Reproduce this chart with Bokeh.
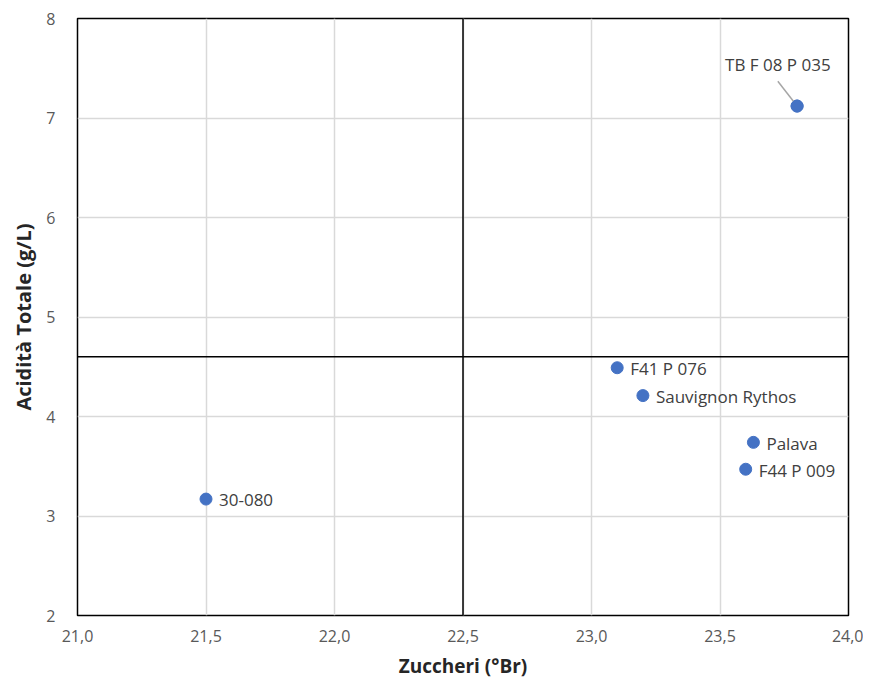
from bokeh.plotting import figure
from bokeh.models import ColumnDataSource, FixedTicker, Span
from bokeh.core.properties import value
from bokeh.embed import file_html
from bokeh.resources import INLINE

# Data
names = ["30-080", "F41 P 076", "Sauvignon Rythos", "Palava", "F44 P 009", "TB F 08 P 035"]
zuccheri = [21.5, 23.1, 23.2, 23.63, 23.6, 23.8]
acidita = [3.17, 4.49, 4.21, 3.74, 3.47, 7.12]

x_ticks = [21.0, 21.5, 22.0, 22.5, 23.0, 23.5, 24.0]
x_tick_labels = ["21,0", "21,5", "22,0", "22,5", "23,0", "23,5", "24,0"]
y_ticks = [2, 3, 4, 5, 6, 7, 8]
y_tick_labels = ["2", "3", "4", "5", "6", "7", "8"]

x_cross = 22.5
y_cross = 4.6

FONT = "Open Sans"
W, H = 863, 682

p = figure(width=W, height=H, x_range=(21, 24), y_range=(2, 8),
           output_backend="svg", toolbar_location=None,
           min_border_left=77, min_border_right=15, min_border_top=18, min_border_bottom=67)
p.background_fill_color = "white"
p.border_fill_color = "white"
p.outline_line_color = "black"
p.outline_line_width = 1.5
p.outline_line_alpha = 1.0

p.xaxis.ticker = FixedTicker(ticks=x_ticks)
p.yaxis.ticker = FixedTicker(ticks=y_ticks)
p.xaxis.major_label_overrides = {t: l for t, l in zip(x_ticks, x_tick_labels)}
p.yaxis.major_label_overrides = {t: l for t, l in zip(y_ticks, y_tick_labels)}

for ax in (p.xaxis, p.yaxis):
    ax.axis_line_color = None
    ax.major_tick_line_color = None
    ax.minor_tick_line_color = None
    ax.major_label_text_font = FONT
    ax.major_label_text_font_size = "16px"
    ax.major_label_text_color = "#595959"
    ax.axis_label_text_font = FONT
    ax.axis_label_text_font_style = "bold"
    ax.axis_label_text_color = "#262626"

p.xaxis.axis_label_text_font_size = "19px"
p.yaxis.axis_label_text_font_size = "20px"
p.xaxis.major_label_standoff = 8
p.yaxis.major_label_standoff = 16
p.xaxis.axis_label = "Zuccheri (°Br)"
p.yaxis.axis_label = "Acidità Totale (g/L)"
p.xaxis.axis_label_standoff = 8
p.yaxis.axis_label_standoff = 6

p.grid.grid_line_color = "#d9d9d9"
p.grid.grid_line_width = 1.5

p.add_layout(Span(location=x_cross, dimension="height", line_color="black", line_width=1.5))
p.add_layout(Span(location=y_cross, dimension="width", line_color="black", line_width=1.5))

src = ColumnDataSource(dict(x=zuccheri, y=acidita, name=names))
p.scatter("x", "y", source=src, size=12, fill_color="#4472C4", line_color="#4472C4")

# labels to the right for all but last
right_src = ColumnDataSource(dict(x=zuccheri[:-1], y=acidita[:-1], name=names[:-1]))
p.text("x", "y", text="name", source=right_src, x_offset=13, y_offset=1,
       text_baseline="middle", text_align="left",
       text_font=value(FONT), text_font_size="17px", text_color="#404040")

# last label above with leader line
lx = zuccheri[-1] - 0.075
ly = acidita[-1] + 0.25
p.segment(x0=[zuccheri[-1]], y0=[acidita[-1]], x1=[lx], y1=[ly], line_color="#a6a6a6", line_width=1.5)
p.text(x=[lx], y=[ly], text=[names[-1]], y_offset=-5, text_baseline="bottom", text_align="center",
       text_font=value(FONT), text_font_size="17px", text_color="#404040")
p.scatter([zuccheri[-1]], [acidita[-1]], size=12, fill_color="#4472C4", line_color="#4472C4")

open("out.html", "w").write(file_html(p, INLINE))
